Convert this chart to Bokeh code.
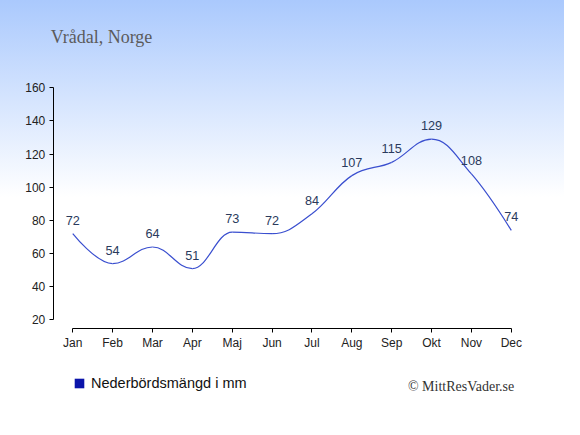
import numpy as np
from bokeh.plotting import figure
from bokeh.models import FixedTicker, Label, Legend, LegendItem, Range1d
from bokeh.core.properties import value
from bokeh.embed import file_html
from bokeh.resources import INLINE

# ---- data ----
months = ["Jan", "Feb", "Mar", "Apr", "Maj", "Jun", "Jul", "Aug", "Sep", "Okt", "Nov", "Dec"]
precip = [72, 54, 64, 51, 73, 72, 84, 107, 115, 129, 108, 74]
y_ticks = [20, 40, 60, 80, 100, 120, 140, 160]
title_text = "Vrådal, Norge"
legend_text = "Nederbördsmängd i mm"
credit_text = "© MittResVader.se"

xs = list(range(len(months)))

# ---- spline control points (Highcharts-like smoothing) ----
def spline_controls(xv, yv, smoothing=1.5):
    n = len(xv)
    denom = smoothing + 1.0
    left = [(float(x), float(y)) for x, y in zip(xv, yv)]
    right = [(float(x), float(y)) for x, y in zip(xv, yv)]
    for i in range(1, n - 1):
        px, py = xv[i], yv[i]
        lx, ly = xv[i - 1], yv[i - 1]
        nx, ny = xv[i + 1], yv[i + 1]
        lcx = (smoothing * px + lx) / denom
        lcy = (smoothing * py + ly) / denom
        rcx = (smoothing * px + nx) / denom
        rcy = (smoothing * py + ny) / denom
        corr = 0.0
        if rcx != lcx:
            corr = ((rcy - lcy) * (rcx - px)) / (rcx - lcx) + py - rcy
        lcy += corr
        rcy += corr
        if lcy > ly and lcy > py:
            lcy = max(ly, py); rcy = 2 * py - lcy
        elif lcy < ly and lcy < py:
            lcy = min(ly, py); rcy = 2 * py - lcy
        if rcy > ny and rcy > py:
            rcy = max(ny, py); lcy = 2 * py - rcy
        elif rcy < ny and rcy < py:
            rcy = min(ny, py); lcy = 2 * py - rcy
        left[i] = (lcx, lcy)
        right[i] = (rcx, rcy)
    return left, right

left_c, right_c = spline_controls(xs, precip)
seg = dict(
    x0=xs[:-1], y0=precip[:-1], x1=xs[1:], y1=precip[1:],
    cx0=[right_c[i][0] for i in range(len(xs) - 1)],
    cy0=[right_c[i][1] for i in range(len(xs) - 1)],
    cx1=[left_c[i + 1][0] for i in range(len(xs) - 1)],
    cy1=[left_c[i + 1][1] for i in range(len(xs) - 1)],
)

W, H = 564, 419
# frame spans the whole figure; axes are pinned with fixed_location
p = figure(width=W, height=H, output_backend="svg", toolbar_location=None, title=None,
           x_range=Range1d(-1.812, 12.334), y_range=Range1d(-39.96, 212.53),
           min_border_left=0, min_border_right=0, min_border_top=0, min_border_bottom=0)
p.grid.visible = False
p.outline_line_color = None
p.background_fill_color = None
p.border_fill_color = None
p.styles = {"background": "linear-gradient(to bottom, #aac9fd 0px, #ffffff 197px)"}

for ax in (p.xaxis, p.yaxis):
    ax.axis_line_color = "black"
    ax.major_tick_line_color = "black"
    ax.major_tick_out = 4
    ax.major_tick_in = 0
    ax.minor_tick_line_color = None
    ax.major_label_text_font = "Liberation Sans"
    ax.major_label_text_font_size = "12px"
    ax.major_label_text_color = "#222222"
p.xaxis.ticker = FixedTicker(ticks=xs)
p.xaxis.major_label_overrides = {i: m for i, m in enumerate(months)}
p.xaxis.bounds = (xs[0], xs[-1])
p.xaxis.fixed_location = 14.76
p.xaxis.major_label_standoff = 3
p.yaxis.ticker = FixedTicker(ticks=y_ticks)
p.yaxis.bounds = (y_ticks[0], y_ticks[-1])
p.yaxis.fixed_location = -0.488
p.yaxis.major_label_standoff = 4

p.bezier(x0="x0", y0="y0", x1="x1", y1="y1", cx0="cx0", cy0="cy0", cx1="cx1", cy1="cy1",
         source=seg, line_color="#3a4fcf", line_width=1.2)

p.text(x=xs, y=precip, text=[str(v) for v in precip], text_align="center",
       text_baseline="middle", y_offset=-13.5, text_font=value("Liberation Sans"),
       text_font_size="12.7px", text_color="#2a3a5c")

# zero-size markers: only used to draw the legend swatch
sq = p.scatter(x=xs, y=precip, marker="square", size=0, fill_color="#0a14aa", line_color=None)
legend = Legend(items=[LegendItem(label=legend_text, renderers=[sq])],
                location=(67, 23.6), padding=0, margin=0, label_standoff=0,
                glyph_width=24, glyph_height=24, border_line_color=None,
                background_fill_alpha=0, label_text_font="Liberation Sans",
                label_text_font_size="14.5px", label_text_color="#111111")
p.add_layout(legend)

p.add_layout(Label(x=50.3, y=382.1, x_units="screen", y_units="screen", text=title_text,
                   text_font="Liberation Serif", text_font_size="18px",
                   text_color="#5b5b5b", text_baseline="alphabetic"))
p.add_layout(Label(x=513.7, y=33, x_units="screen", y_units="screen", text=credit_text,
                   text_font="Liberation Serif", text_font_size="14px",
                   text_color="#333333", text_align="right", text_baseline="alphabetic"))

open("out.html", "w").write(file_html(p, INLINE))
